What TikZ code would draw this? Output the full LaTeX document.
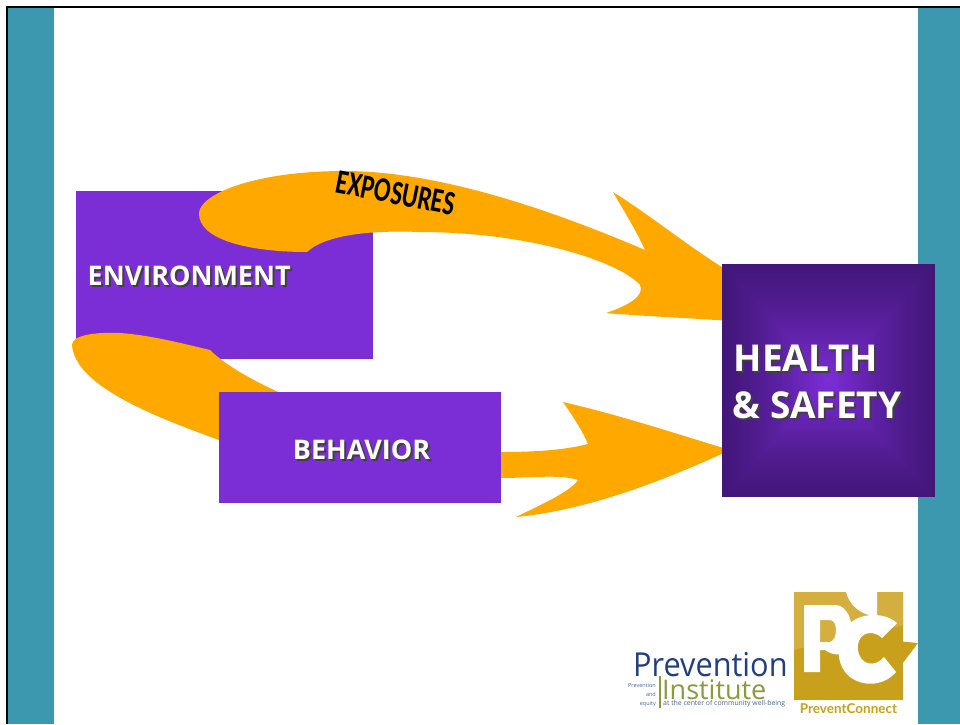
\documentclass[tikz,border=0pt]{standalone}
\usepackage{fontspec}
\setmainfont{Open Sans}
\newfontfamily\condfont{Carlito}
\newfontfamily\logofont{Lato}
\definecolor{teal1}{HTML}{3C98AF}
\definecolor{purp}{HTML}{7B2DD6}
\definecolor{purpd}{HTML}{43177A}
\definecolor{orng}{HTML}{FFA800}
\definecolor{goldL}{HTML}{D4AE3F}
\definecolor{goldD}{HTML}{C9A01C}
\definecolor{navy1}{HTML}{1F3F7F}
\definecolor{olive1}{HTML}{8B9A3B}
\tikzset{
 boxfill/.style={fill=purp,draw=none},
 flow/.style={fill=orng,draw=none},
 lab/.style={text=white,font=\fontsize{#1}{#1}\selectfont\bfseries,inner sep=0pt},
 labshadow/.style={text=black!75,font=\fontsize{#1}{#1}\selectfont\bfseries,inner sep=0pt},
}
\begin{document}
\begin{tikzpicture}[x=1pt,y=-1pt]
\useasboundingbox (0,0) rectangle (960,724);
\fill[white] (0,0) rectangle (960,724);
% side bands and frame
\fill[teal1] (8,8) rectangle (54,724);
\fill[teal1] (918,8) rectangle (960,724);
\fill[black] (6,6) rectangle (960,8);
\fill[black] (6,6) rectangle (8,724);
% environment
\node[boxfill,minimum width=297pt,minimum height=168pt,inner sep=0pt,anchor=north west] (env) at (76,191) {};
% exposures arrow
\fill[flow] (199,213) .. controls (200,195) and (250,172) .. (340,171)
 .. controls (430,170) and (540,205) .. (645,250)
 .. controls (635,228) and (622,208) .. (613,192)
 .. controls (650,215) and (690,248) .. (730,272)
 -- (730,321)
 .. controls (690,318) and (640,316) .. (606,313)
 .. controls (630,305) and (645,295) .. (640,285)
 .. controls (620,262) and (530,232) .. (420,232)
 .. controls (370,230) and (325,235) .. (307,252)
 .. controls (250,252) and (198,240) .. (199,213) -- cycle;
% behavior arrow
\fill[flow] (72,345) .. controls (72,335) and (95,332) .. (120,333)
 .. controls (150,335) and (185,344) .. (210,350)
 .. controls (225,365) and (255,382) .. (285,395)
 -- (400,452) -- (501,452)
 .. controls (535,452) and (565,450) .. (588,444)
 .. controls (582,430) and (572,415) .. (563,402)
 .. controls (620,415) and (680,435) .. (730,450)
 .. controls (670,478) and (590,510) .. (516,517)
 .. controls (540,505) and (570,492) .. (578,480)
 .. controls (560,474) and (530,478) .. (501,478)
 -- (300,470) -- (219,440)
 .. controls (150,415) and (75,385) .. (72,345) -- cycle;
% behavior box
\node[boxfill,minimum width=282pt,minimum height=111pt,inner sep=0pt,anchor=north west] (beh) at (219,392) {};
% health box (rectangular gradient)
\foreach \i in {0,...,39}{
  \pgfmathsetmacro{\mixv}{100*(\i/39)^1.3}
  \pgfmathsetmacro{\dx}{106.5*(1-\i/40)}
  \pgfmathsetmacro{\dy}{116.5*(1-\i/40)}
  \fill[purp!\mixv!purpd] ({828.5-\dx},{380.5-\dy}) rectangle ({828.5+\dx},{380.5+\dy});
}
\node[minimum width=213pt,minimum height=233pt,inner sep=0pt,anchor=north west] (hs) at (722,264) {};
% labels
\node[labshadow=27,anchor=west] at (89.5,278) {ENVIRONMENT};
\node[lab=27,anchor=west] (envt) at (87.5,276) {ENVIRONMENT};
\node[labshadow=27] at (363.5,451.5) {BEHAVIOR};
\node[lab=27] (beht) at (361.5,449.5) {BEHAVIOR};
\node[labshadow=37,anchor=west] at (735.5,360) {HEALTH};
\node[lab=37,anchor=west] (h1) at (733.5,358) {HEALTH};
\node[labshadow=37,anchor=west] at (734.5,407.5) {\&\ SAFETY};
\node[lab=37,anchor=west] (h2) at (732.5,405.5) {\&\ SAFETY};
\node[inner sep=0pt,rotate=-11,font=\condfont\bfseries\fontsize{30}{30}\selectfont,xscale=0.82,yscale=1.15] (expo) at (396,193) {EXPOSURES};
% Prevention Institute logo
\node[inner sep=0pt,anchor=base west,text=navy1,font=\fontsize{33}{33}\selectfont,xscale=0.93] (pi1) at (633,676) {Prevention};
\node[inner sep=0pt,anchor=base west,text=olive1,font=\fontsize{27}{27}\selectfont] (pi2) at (662,699) {Institute};
\fill[olive1] (659,676) rectangle (660.5,708);
\node[inner sep=0pt,anchor=base east,text=navy1!80,font=\fontsize{5.5}{5.5}\selectfont] (pi3) at (656,687) {Prevention};
\node[inner sep=0pt,anchor=base east,text=navy1!80,font=\fontsize{5.5}{5.5}\selectfont] (pi4) at (656,696) {and};
\node[inner sep=0pt,anchor=base east,text=navy1!80,font=\fontsize{5.5}{5.5}\selectfont] (pi5) at (656,705) {equity};
\node[inner sep=0pt,anchor=base west,text=navy1!80,font=\fontsize{6.9}{6.9}\selectfont] (pi6) at (663,705.5) {at the center of community well-being};
% PreventConnect logo
\fill[goldD] (794,592) rectangle (903,700);
\fill[goldL] (794,592) -- (903,592) -- (903,625) .. controls (870,635) and (830,640) .. (794,650) -- cycle;
\fill[goldD] (885,640) -- (918,643) -- (896,672) -- (880,665) -- cycle;
\fill[white,even odd rule] (804,605) -- (835,605) .. controls (860,605) and (858,672) .. (825,650) -- (820,650) -- (820,672) -- (804,672) -- cycle
  (820,620) -- (820,642) -- (830,642) .. controls (838,640) and (838,620) .. (830,620) -- cycle;
\fill[white,even odd rule] (877,616) arc[start angle=-90,end angle=-270,radius=32,y radius=-32] -- cycle;
\fill[white] (897,623) .. controls (885,612) and (860,612) .. (848,625) .. controls (835,640) and (835,665) .. (850,677)
  .. controls (865,688) and (885,685) .. (896,672) -- (884,657) .. controls (875,668) and (860,665) .. (858,650)
  .. controls (856,635) and (870,627) .. (882,638) -- cycle;
\node[inner sep=0pt,text=goldD,font=\logofont\bfseries\fontsize{13.5}{13.5}\selectfont] (pc) at (848.5,708.5) {PreventConnect};
\end{tikzpicture}
\end{document}
